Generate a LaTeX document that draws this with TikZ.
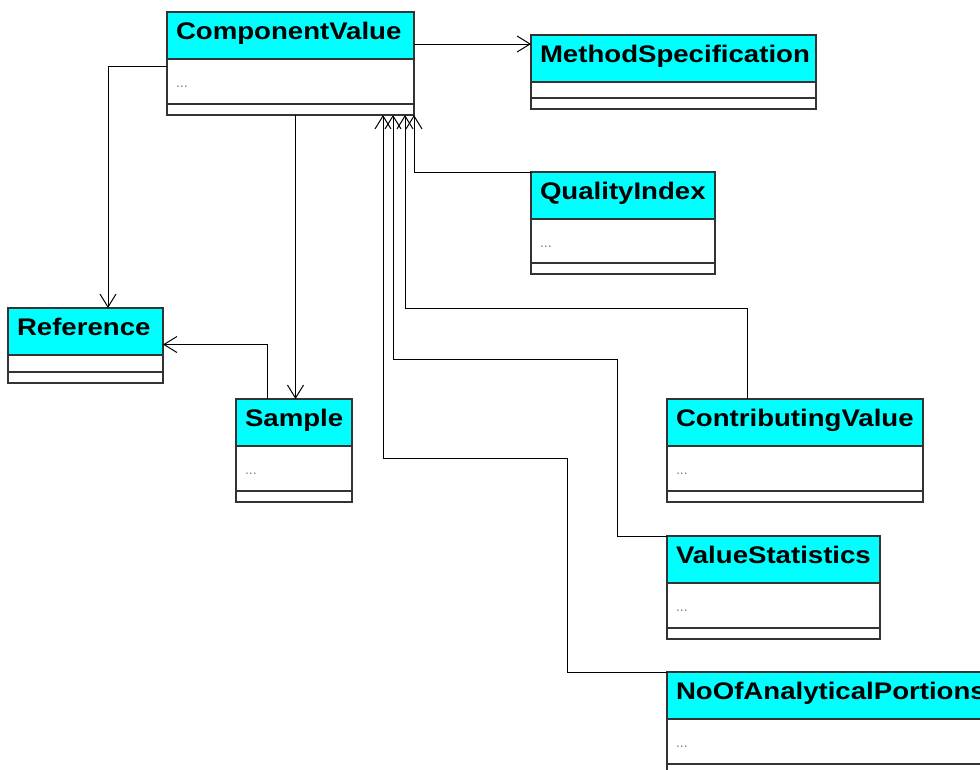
\documentclass[tikz,border=0pt]{standalone}
\usepackage{fontspec}
\setmainfont{Liberation Sans}
\newfontfamily\classfont[FakeStretch=1.15]{Liberation Sans}
\usetikzlibrary{arrows.meta}

\definecolor{headcyan}{RGB}{0,255,255}
\newcommand{\attrdots}{\smash{\raisebox{-6pt}{...}}}

\tikzset{
  classhead/.style={draw=black!80, line width=1.3pt, fill=headcyan, inner xsep=9pt, inner ysep=0pt, outer sep=0pt,
    minimum height=47pt, text height=17.5pt, text depth=10.5pt, align=left,
    font=\classfont\bfseries\fontsize{24}{28}\selectfont},
  classpart/.style={draw=black!80, line width=1.3pt, fill=white, inner xsep=9pt, inner ysep=0pt, outer sep=0pt,
    align=left, text=gray, font=\fontsize{14}{16}\selectfont},
  assoc/.style={draw=black, line width=1pt, -{Straight Barb[length=13pt,width=16pt]}}
}

\begin{document}
\begin{tikzpicture}[x=1pt, y=-1pt]
    \useasboundingbox (0,0) rectangle (980,769);
    \clip (0,0) rectangle (980,769);

    % Draw classes: name/title/left/top/width/attribute height/attributes
    \foreach \n/\t/\x/\y/\w/\h/\d in {cv/ComponentValue/167/12/247/45/\attrdots,
        ms/MethodSpecification/531/35/285/16/\relax,
        qi/QualityIndex/531/172/184/44/\attrdots,
        ref/Reference/8/308/155/17/\relax,
        smp/Sample/236/399/116/45/\attrdots,
        cvl/ContributingValue/667/399/256/45/\attrdots,
        vs/ValueStatistics/667/536/213/45/\attrdots,
        noap/NoOfAnalyticalPortions/667/672/330/45/\attrdots} {
      \pgfmathsetmacro\tw{\w-18}
      \node[classhead, text width=\tw pt, anchor=north west] (\n) at (\x,\y) {\t};
      \node[classpart, text width=\tw pt, minimum height=\h pt, anchor=north] (\n-a) at (\n.south) {\d};
      \node[classpart, text width=\tw pt, minimum height=11pt, anchor=north] (\n-o) at (\n-a.south) {};
    }

    % Draw associations
    \draw[assoc] ([yshift=-8.5pt]cv.east) coordinate (cvR) -- (cvR -| ms.west);
    \draw[assoc] ([yshift=15.5pt]cv-a.west) -| ([xshift=22.5pt]ref.north);
    \draw[assoc] ([xshift=5pt]cv-o.south) coordinate (cvB) -- (cvB |- smp.north);
    \draw[assoc] ([xshift=-27pt]smp.north) |- ([yshift=-13pt]ref.east);

    % Draw associations back to ComponentValue
    \draw[assoc] (qi.north west) -| (cv-o.south east);
    \draw[assoc] ([xshift=-48pt]cvl.north) -- ++(0,-91) -| ([xshift=-9pt]cv-o.south east);
    \draw[assoc] (vs.north west) -- ++(-50,0) -- ++(0,-177) -| ([xshift=-21pt]cv-o.south east);
    \draw[assoc] (noap.north west) -- ++(-100,0) -- ++(0,-214) -| ([xshift=-31pt]cv-o.south east);

  \end{tikzpicture}
\end{document}
